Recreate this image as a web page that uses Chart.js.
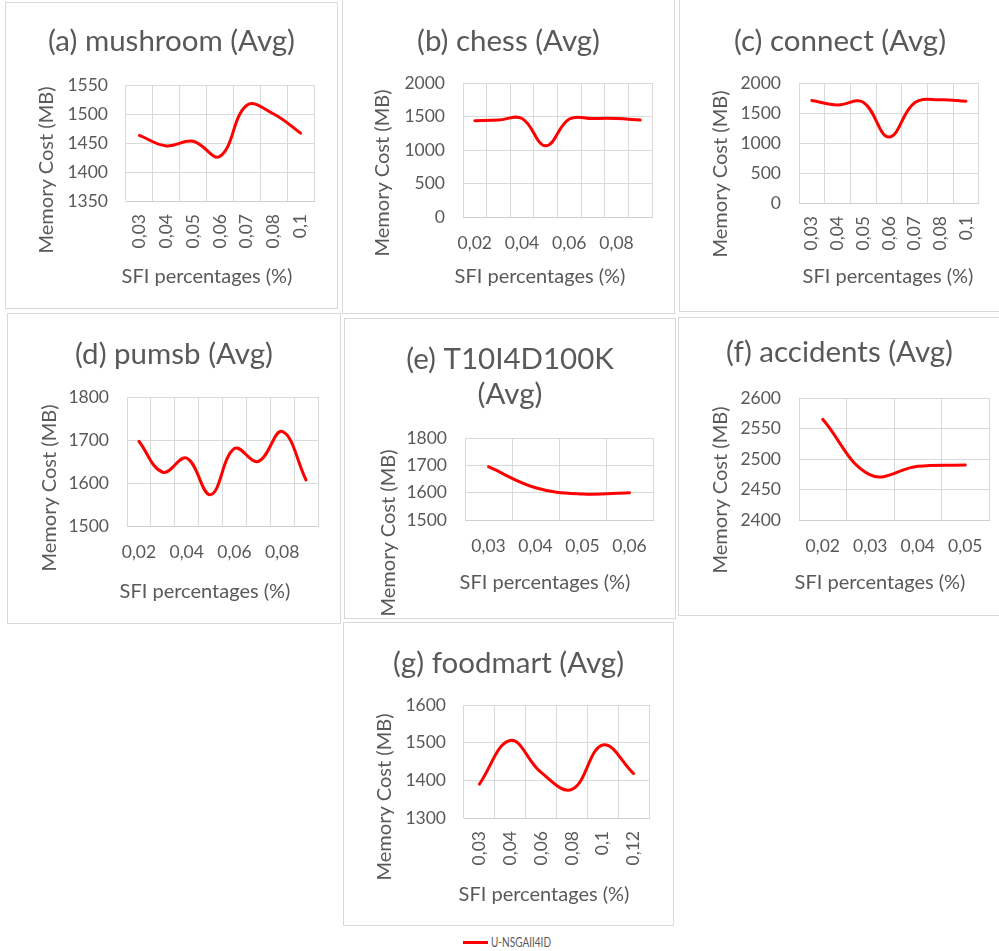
<!DOCTYPE html>
<html>
<head>
<meta charset="utf-8">
<script src="https://cdn.jsdelivr.net/npm/chart.js@4.4.1/dist/chart.umd.min.js"></script>
<style>
  html, body { margin: 0; padding: 0; background: #fff; }
  body { width: 999px; height: 951px; position: relative; overflow: hidden; font-family: Lato, "Noto Sans", sans-serif; }
  .panel { position: absolute; box-sizing: border-box; border: 1px solid #d9d9d9; }
  .panel canvas { position: absolute; left: -1px; top: -1px; }
  #legendLine { position: absolute; left: 463px; top: 941px; width: 25px; height: 3px; background: #ff0000; }
  #legendText { position: absolute; left: 491px; top: 933px; font: 14px Lato, sans-serif; line-height: 18px; color: #595959; white-space: nowrap; transform-origin: 0 50%; }
</style>
</head>
<body>
<div class="panel" id="pa"><canvas id="ca"></canvas></div>
<div class="panel" id="pb"><canvas id="cb"></canvas></div>
<div class="panel" id="pc"><canvas id="cc"></canvas></div>
<div class="panel" id="pd"><canvas id="cd"></canvas></div>
<div class="panel" id="pe"><canvas id="ce"></canvas></div>
<div class="panel" id="pf"><canvas id="cf"></canvas></div>
<div class="panel" id="pg"><canvas id="cg"></canvas></div>
<div id="legendLine"></div>
<div id="legendText">U-NSGAII4ID</div>

<script>
// ---- data: SFI percentage categories and average memory cost (MB) ----
const mushroomSfi = ['0,03', '0,04', '0,05', '0,06', '0,07', '0,08', '0,1'];
const mushroomMem = [1463, 1445, 1453, 1427, 1515, 1500, 1467];
const mushroomAxis = [1350, 1550, 50];

const chessSfi = ['0,02', '0,03', '0,04', '0,05', '0,06', '0,07', '0,08', '0,09'];
const chessMem = [1437, 1447, 1470, 1062, 1462, 1470, 1470, 1447];
const chessAxis = [0, 2000, 500];

const connectSfi = ['0,03', '0,04', '0,05', '0,06', '0,07', '0,08', '0,1'];
const connectMem = [1708, 1635, 1680, 1100, 1670, 1722, 1697];
const connectAxis = [0, 2000, 500];

const pumsbSfi = ['0,02', '0,03', '0,04', '0,05', '0,06', '0,07', '0,08', '0,09'];
const pumsbMem = [1697, 1625, 1658, 1573, 1680, 1650, 1720, 1607];
const pumsbAxis = [1500, 1800, 100];

const t10Sfi = ['0,03', '0,04', '0,05', '0,06'];
const t10Mem = [1695, 1618, 1595, 1600];
const t10Axis = [1500, 1800, 100];

const accidentsSfi = ['0,02', '0,03', '0,04', '0,05'];
const accidentsMem = [2565, 2474, 2488, 2490];
const accidentsAxis = [2400, 2600, 50];

const foodmartSfi = ['0,03', '0,04', '0,06', '0,08', '0,1', '0,12'];
const foodmartMem = [1390, 1506, 1421, 1376, 1494, 1418];
const foodmartAxis = [1300, 1600, 100];

const seriesName = 'U-NSGAII4ID';
const yCaption = 'Memory Cost (MB)';
const xCaption = 'SFI percentages (%)';

// ---- styling ----
const TEXT = '#595959';
const GRID = '#d9d9d9';
const RED = '#ff0000';
const FONT = 'Lato, "Noto Sans", sans-serif';

// Draws the two axis captions at fixed spots inside each panel.
const captionPlugin = {
  id: 'captions',
  afterDraw(chart, args, o) {
    const ctx = chart.ctx;
    ctx.save();
    ctx.fillStyle = TEXT;
    ctx.font = o.size + 'px ' + FONT;
    ctx.textAlign = 'center';
    ctx.textBaseline = 'middle';
    ctx.fillText(o.xText, o.xAt[0], o.xAt[1]);
    ctx.translate(o.yAt[0], o.yAt[1]);
    ctx.rotate(-Math.PI / 2);
    ctx.fillText(o.yText, 0, 0);
    ctx.restore();
  }
};

// panel: box [left, top, right, bottom], plot [left, top, right, bottom] (page px)
function makePanel(cfg) {
  const [bl, bt, br, bb] = cfg.box;
  const [pl, pt, pr, pb] = cfg.plot;
  const W = br - bl + 1, H = bb - bt + 1;
  const div = document.getElementById(cfg.div);
  div.style.left = bl + 'px';
  div.style.top = bt + 'px';
  div.style.width = W + 'px';
  div.style.height = H + 'px';
  const canvas = document.getElementById(cfg.canvas);
  canvas.width = W;
  canvas.height = H;
  canvas.style.width = W + 'px';
  canvas.style.height = H + 'px';

  const lines = Array.isArray(cfg.title) ? cfg.title.length : 1;
  const lh = cfg.titleLH || 1.2;
  const lineH = cfg.titleSize * lh;
  const padTop = cfg.titleY - bt - lineH / 2;
  const padBottom = (pt - bt) - padTop - lines * lineH;
  // equal side padding keeps the title centred on the whole panel
  const side = br - pr;

  const [ymin, ymax, ystep] = cfg.axis;

  new Chart(canvas, {
    type: 'line',
    data: {
      labels: cfg.labels,
      datasets: [{
        label: seriesName,
        data: cfg.values,
        borderColor: RED,
        backgroundColor: RED,
        borderWidth: 3,
        borderCapStyle: 'round',
        borderJoinStyle: 'round',
        pointRadius: 0,
        pointHoverRadius: 0,
        tension: 0.4,
        fill: false
      }]
    },
    options: {
      responsive: false,
      animation: false,
      devicePixelRatio: 1,
      layout: { padding: { left: side, top: 0, right: side, bottom: 0 } },
      plugins: {
        legend: { display: false },
        tooltip: { enabled: false },
        title: {
          display: true,
          text: cfg.title,
          color: TEXT,
          font: { family: FONT, size: cfg.titleSize, weight: 'normal', lineHeight: lh },
          padding: { top: padTop, bottom: padBottom }
        },
        captions: {
          size: 20,
          xText: xCaption,
          yText: yCaption,
          xAt: [cfg.xCap[0] - bl, cfg.xCap[1] - bt],
          yAt: [cfg.yCap[0] - bl, cfg.yCap[1] - bt]
        }
      },
      scales: {
        x: {
          offset: true,
          grid: { offset: true, color: GRID, lineWidth: 1, drawTicks: false },
          border: { display: true, color: '#d0d0d0', width: 1 },
          ticks: {
            color: TEXT,
            font: { family: FONT, size: 17.5 },
            autoSkip: false,
            maxRotation: cfg.rotate ? 90 : 0,
            minRotation: cfg.rotate ? 90 : 0,
            padding: cfg.rotate ? 13 : 16,
            callback: function (v, i) {
              const s = this.getLabelForValue(v);
              return (cfg.every && i % cfg.every !== 0) ? '' : s;
            }
          },
          afterFit: (scale) => { scale.height = bb - pb; }
        },
        y: {
          min: ymin,
          max: ymax,
          grid: { color: GRID, lineWidth: 1, drawTicks: false },
          border: { display: false },
          ticks: {
            stepSize: ystep,
            color: TEXT,
            font: { family: FONT, size: 17.5 },
            padding: 18,
            callback: (v) => String(v)
          },
          afterFit: (scale) => { scale.width = pl - bl - side; }
        }
      }
    },
    plugins: [captionPlugin]
  });
}

makePanel({ div: 'pa', canvas: 'ca', box: [5, 2, 337, 308], plot: [126, 85, 313, 200],
  title: '(a) mushroom (Avg)', titleSize: 29.5, titleY: 41,
  labels: mushroomSfi, values: mushroomMem, axis: mushroomAxis, rotate: true,
  xCap: [207, 277], yCap: [47, 170] });

makePanel({ div: 'pb', canvas: 'cb', box: [342, -3, 674, 313], plot: [463, 83, 651, 216],
  title: '(b) chess (Avg)', titleSize: 29.5, titleY: 41,
  labels: chessSfi, values: chessMem, axis: chessAxis, every: 2,
  xCap: [540, 277], yCap: [383, 173] });

makePanel({ div: 'pc', canvas: 'cc', box: [679, -3, 1000, 311], plot: [799, 83, 986, 202],
  title: '(c) connect (Avg)', titleSize: 29.5, titleY: 41,
  labels: connectSfi, values: connectMem, axis: connectAxis, rotate: true,
  xCap: [888, 277], yCap: [721, 174] });

makePanel({ div: 'pd', canvas: 'cd', box: [7, 313, 340, 623], plot: [127, 397, 317, 525],
  title: '(d) pumsb (Avg)', titleSize: 29.5, titleY: 354,
  labels: pumsbSfi, values: pumsbMem, axis: pumsbAxis, every: 2,
  xCap: [205, 592], yCap: [50, 488] });

makePanel({ div: 'pe', canvas: 'ce', box: [344, 318, 675, 618], plot: [465, 438, 652, 519],
  title: ['(e) T10I4D100K', '(Avg)'], titleSize: 29.5, titleLH: 1.2, titleY: 359,
  labels: t10Sfi, values: t10Mem, axis: t10Axis,
  xCap: [545, 583], yCap: [389, 533] });

makePanel({ div: 'pf', canvas: 'cf', box: [678, 317, 1000, 615], plot: [799, 398, 988, 519],
  title: '(f) accidents (Avg)', titleSize: 29.5, titleY: 352,
  labels: accidentsSfi, values: accidentsMem, axis: accidentsAxis,
  xCap: [880, 583], yCap: [721, 490] });

makePanel({ div: 'pg', canvas: 'cg', box: [343, 622, 673, 925], plot: [464, 705, 648, 817],
  title: '(g) foodmart (Avg)', titleSize: 29.5, titleY: 663,
  labels: foodmartSfi, values: foodmartMem, axis: foodmartAxis, rotate: true,
  xCap: [544, 895], yCap: [385, 797] });

// condensed legend label beneath the last panel
(function () {
  const el = document.getElementById('legendText');
  const w = el.getBoundingClientRect().width;
  el.style.transform = 'scaleX(' + (60 / w) + ')';
})();
</script>
</body>
</html>
